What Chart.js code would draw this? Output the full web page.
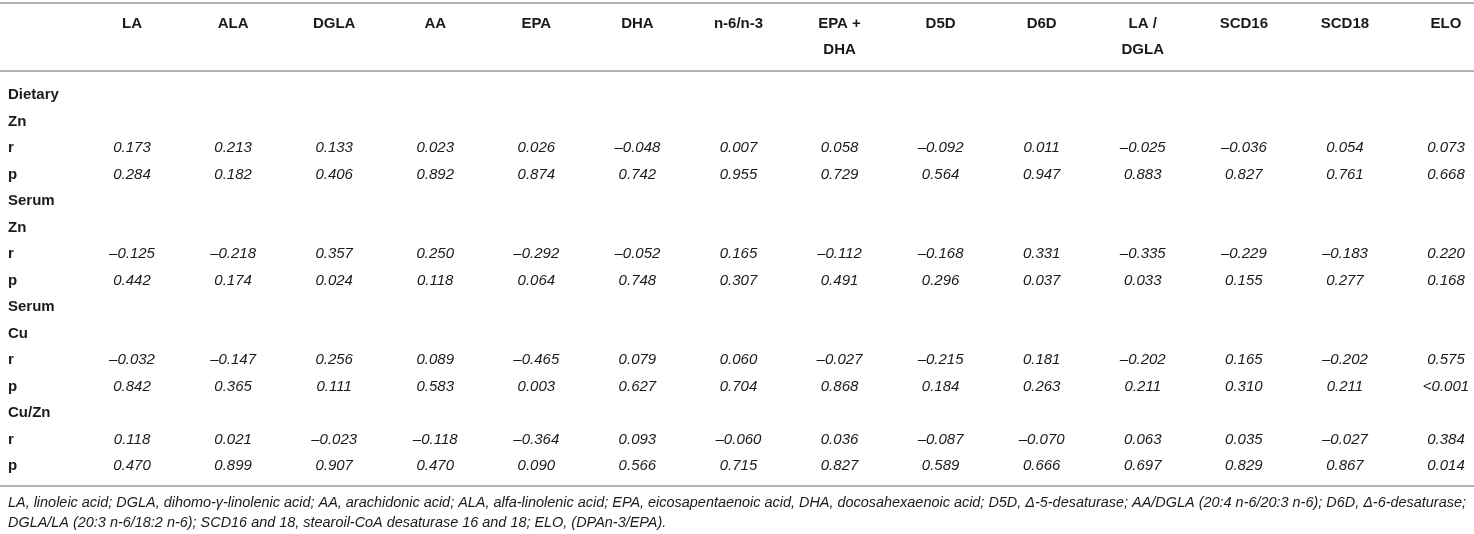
<!DOCTYPE html>
<html>
<head>
<meta charset="utf-8">
<script src="https://cdn.jsdelivr.net/npm/chart.js@4"></script>
<style>
    html, body { margin: 0; padding: 0; background: #fff; }
    #wrap { width: 1474px; height: 534px; position: relative; }
</style>
</head>
<body>
<div id="wrap"><canvas id="corrTable"></canvas></div>
<script>
// column headers and row labels
const columns = ['LA', 'ALA', 'DGLA', 'AA', 'EPA', 'DHA', 'n-6/n-3', 'EPA +\nDHA', 'D5D', 'D6D', 'LA /\nDGLA', 'SCD16', 'SCD18', 'ELO'];
const rowLabels = ['Dietary', 'Zn', 'r', 'p', 'Serum', 'Zn', 'r', 'p', 'Serum', 'Cu', 'r', 'p', 'Cu/Zn', 'r', 'p'];

// correlation values (r) and significance (p)
const dietaryZnR = [0.173, 0.213, 0.133, 0.023, 0.026, -0.048, 0.007, 0.058, -0.092, 0.011, -0.025, -0.036, 0.054, 0.073];
const dietaryZnP = [0.284, 0.182, 0.406, 0.892, 0.874, 0.742, 0.955, 0.729, 0.564, 0.947, 0.883, 0.827, 0.761, 0.668];
const serumZnR = [-0.125, -0.218, 0.357, 0.250, -0.292, -0.052, 0.165, -0.112, -0.168, 0.331, -0.335, -0.229, -0.183, 0.220];
const serumZnP = [0.442, 0.174, 0.024, 0.118, 0.064, 0.748, 0.307, 0.491, 0.296, 0.037, 0.033, 0.155, 0.277, 0.168];
const serumCuR = [-0.032, -0.147, 0.256, 0.089, -0.465, 0.079, 0.060, -0.027, -0.215, 0.181, -0.202, 0.165, -0.202, 0.575];
const serumCuP = [0.842, 0.365, 0.111, 0.583, 0.003, 0.627, 0.704, 0.868, 0.184, 0.263, 0.211, 0.310, 0.211, '<0.001'];
const cuZnR = [0.118, 0.021, -0.023, -0.118, -0.364, 0.093, -0.060, 0.036, -0.087, -0.070, 0.063, 0.035, -0.027, 0.384];
const cuZnP = [0.470, 0.899, 0.907, 0.470, 0.090, 0.566, 0.715, 0.827, 0.589, 0.666, 0.697, 0.829, 0.867, 0.014];

const footnote = [
    'LA, linoleic acid; DGLA, dihomo-\u03b3-linolenic acid; AA, arachidonic acid; ALA, alfa-linolenic acid; EPA, eicosapentaenoic acid, DHA, docosahexaenoic acid; D5D, \u0394-5-desaturase; AA/DGLA (20:4 n-6/20:3 n-6); D6D, \u0394-6-desaturase;',
    'DGLA/LA (20:3 n-6/18:2 n-6); SCD16 and 18, stearoil-CoA desaturase 16 and 18; ELO, (DPAn-3/EPA).'
];

// which data row each series sits on
const seriesRows = [
    { row: 2, values: dietaryZnR },
    { row: 3, values: dietaryZnP },
    { row: 6, values: serumZnR },
    { row: 7, values: serumZnP },
    { row: 10, values: serumCuR },
    { row: 11, values: serumCuP },
    { row: 13, values: cuZnR },
    { row: 14, values: cuZnP }
];

const fmt = v => typeof v === 'string' ? v : (v < 0 ? '\u2013' + Math.abs(v).toFixed(3) : v.toFixed(3));

const FONT = '"Liberation Sans", Arial, Helvetica, sans-serif';
const TEXT = '#1a1a1a';
const RULE = '#b5b5b5';

// grid placement on the hidden scales
const LABEL_X = -0.227;
const HEADER_Y = [-2.68, -1.70];
const RULES_Y = [-3.47, -0.906, 14.755];
const NOTE_Y = [15.40, 16.16];

const tablePlugin = {
    id: 'tablePlugin',
    afterDatasetsDraw(chart) {
        const { ctx, chartArea, scales: { x, y } } = chart;
        ctx.save();

        // rules
        ctx.strokeStyle = RULE;
        ctx.lineWidth = 2;
        RULES_Y.forEach(v => {
            const py = Math.round(y.getPixelForValue(v));
            ctx.beginPath();
            ctx.moveTo(chartArea.left, py);
            ctx.lineTo(chartArea.right, py);
            ctx.stroke();
        });

        // header
        ctx.fillStyle = TEXT;
        ctx.font = 'bold 15px ' + FONT;
        ctx.textAlign = 'center';
        ctx.textBaseline = 'middle';
        columns.forEach((c, i) => {
            c.split('\n').forEach((line, j) => {
                ctx.fillText(line, x.getPixelForValue(i + 1), y.getPixelForValue(HEADER_Y[j]));
            });
        });

        // row labels
        ctx.textAlign = 'left';
        rowLabels.forEach((lab, i) => {
            ctx.fillText(lab, x.getPixelForValue(LABEL_X), y.getPixelForValue(i));
        });

        // cell values from the dataset points
        ctx.font = 'italic 15px ' + FONT;
        ctx.textAlign = 'center';
        chart.data.datasets.forEach((ds, di) => {
            const meta = chart.getDatasetMeta(di);
            meta.data.forEach((pt, i) => {
                ctx.fillText(fmt(ds.data[i].v), pt.x, pt.y);
            });
        });

        // footnote, sized to span the table width
        ctx.textAlign = 'left';
        ctx.font = 'italic 14px ' + FONT;
        const w = ctx.measureText(footnote[0]).width;
        const size = 14 * (chartArea.right - chartArea.left - 16) / w;
        ctx.font = 'italic ' + size.toFixed(2) + 'px ' + FONT;
        footnote.forEach((line, i) => {
            ctx.fillText(line, x.getPixelForValue(LABEL_X), y.getPixelForValue(NOTE_Y[i]));
        });

        ctx.restore();
    }
};

new Chart(document.getElementById('corrTable'), {
    type: 'scatter',
    data: {
        datasets: seriesRows.map(s => ({
            data: s.values.map((v, i) => ({ x: i + 1, y: s.row, v: v })),
            pointRadius: 0,
            pointHoverRadius: 0
        }))
    },
    options: {
        responsive: true,
        maintainAspectRatio: false,
        animation: false,
        layout: { padding: 0 },
        plugins: {
            legend: { display: false },
            tooltip: { enabled: false }
        },
        scales: {
            x: { type: 'linear', display: false, min: -0.306, max: 14.277 },
            y: { type: 'linear', display: false, reverse: true, min: -3.585, max: 16.566 }
        }
    },
    plugins: [tablePlugin]
});
</script>
</body>
</html>
